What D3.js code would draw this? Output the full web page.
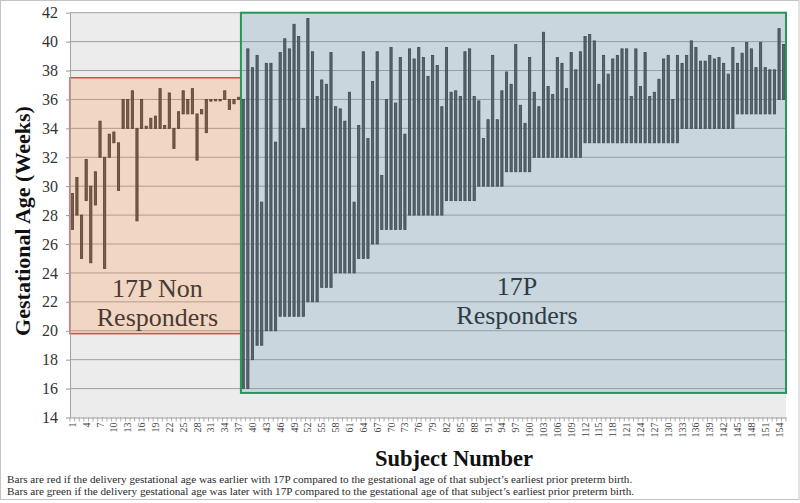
<!DOCTYPE html>
<html><head><meta charset="utf-8">
<script src="https://cdn.jsdelivr.net/npm/d3@7"></script>
<style>body{margin:0;background:#fff}svg{display:block}</style>
</head><body><svg id="c" width="800" height="503"></svg>
<script>
// Subjects 1-37: 17P non responders (bar spans low..high, weeks)
const nonResponderLow  = [27.0,28.0,25.0,29.0,24.7,28.7,32.0,24.3,32.0,33.0,29.7,34.0,34.0,34.0,27.6,34.0,34.0,34.0,34.0,34.0,34.0,34.0,32.6,34.0,35.0,35.0,35.0,31.8,35.0,33.7,35.88,35.9,35.9,36.0,35.3,35.7,36.0];
const nonResponderHigh = [29.5,30.6,28.0,31.85,30.0,31.0,34.5,32.0,33.6,33.75,33.0,36.0,36.0,36.6,34.0,36.0,34.15,34.7,34.85,36.75,34.2,36.45,34.0,35.15,36.6,36.0,36.75,35.0,35.3,36.0,36.0,36.0,36.0,36.6,36.0,36.0,36.15];
// Subjects 38-155: 17P responders (earliest prior preterm birth .. delivery with 17P)
const responderLow = [16,16,18,19,19,20,20,20,21,21,21,21,21,21,22,22,22,23,23,23,24,24,24,24,24,25,25,25,26,26,27,27,27,27,27,27,28,28,28,28,28,28,28,28,29,29,29,29,29,29,29,30,30,30,30,30,30,31,31,31,31,31,31,32,32,32,32,32,32,32,32,32,32,32,
  33,33,33,33,33,33,33,33,33,33,33,33,33,33,33,33,33,33,33,33,33,
  34,34,34,34,34,34,34,34,34,34,34,34,
  35,35,35,35,35,35,35,35,35,36,36];
const responderHigh = [36,39.5,38.2,39.05,28.9,38.5,38.5,33.05,39.25,40.2,39.5,41.2,40.35,34,41.6,39.3,36.2,37.35,37.05,39.25,35.5,35.35,34.5,36.5,28.9,34.2,39.3,33.3,37.25,39.3,30.75,36,39.6,35.75,38.9,33.6,39.5,38.8,39.6,38.9,37.6,39.05,38.35,35.5,39.6,36.5,36.6,36.2,39.3,39.5,36.2,35.9,33.3,34.6,39.05,34.6,36.6,37.9,37.05,39.8,35.6,34.35,38.9,36.5,35.5,40.65,36.9,36.35,38.9,38.5,36.75,39.25,38.05,39.3,
  40.35,40.5,40.05,37.05,39.05,37.75,38.8,39.05,39.5,39.5,36.2,39.5,36.9,39.25,36.2,36.5,37.4,38.8,39.05,36.0,39.05,
  38.5,39.05,40.05,39.6,38.65,38.65,39.05,38.8,38.9,38.5,37.75,39.6,
  38.5,39.2,39.95,39.5,38.2,39.95,38.2,38.05,38.05,40.9,39.8];
const yTicks = [14,16,18,20,22,24,26,28,30,32,34,36,38,40,42];
const labelEvery = 3;
const nonBox = {label: ["17P Non", "Responders"], top: 37.5, bottom: 19.8};
const respBox = {label: ["17P", "Responders"], top: 42, bottom: 15.7};
const footnotes = [
  "Bars are red if the delivery gestational age was earlier with 17P compared to the gestational age of that subject\u2019s earliest prior preterm birth.",
  "Bars are green if the delivery gestational age was later with 17P compared to the gestational age of that subject\u2019s earliest prior preterm birth."
];

const serif = "'Liberation Serif','Times New Roman',serif";
const svg = d3.select('#c');
const L = 70, R = 786, T = 12.7, B = 417.5;
const nNon = nonResponderLow.length;
const n = nNon + responderLow.length;
const subjects = d3.range(1, n + 1);
const bars = subjects.map((s, i) => i < nNon
  ? {s, lo: nonResponderLow[i], hi: nonResponderHigh[i]}
  : {s, lo: responderLow[i - nNon], hi: responderHigh[i - nNon]});

const x = d3.scaleBand().domain(subjects).range([L, R]).paddingInner(0.52).paddingOuter(0.26);
const y = d3.scaleLinear().domain([14, 42]).range([B, T]);
const gap = (x.step() - x.bandwidth()) / 2;

// frame
svg.append('rect').attr('x', 0.5).attr('y', 0.5).attr('width', 798.5).attr('height', 499)
  .attr('fill', 'none').attr('stroke', '#c4c4c4');
// plot bg
svg.append('rect').attr('x', L).attr('y', T).attr('width', R - L).attr('height', B - T).attr('fill', '#ececec');
// gridlines
svg.append('g').selectAll('line').data(yTicks.filter(t => t > 14)).join('line')
  .attr('x1', L).attr('x2', R).attr('y1', d => y(d)).attr('y2', d => y(d))
  .attr('stroke', '#9e9e9e').attr('stroke-width', 1);
// bars
svg.append('g').selectAll('rect').data(bars).join('rect')
  .attr('x', d => x(d.s)).attr('width', x.bandwidth())
  .attr('y', d => y(d.hi)).attr('height', d => Math.max(1, y(d.lo) - y(d.hi)))
  .attr('fill', '#4a4a4a').attr('stroke', '#262626').attr('stroke-width', 0.8);

// overlay boxes
const boundary = x(nNon + 1) - gap;
svg.append('rect').attr('x', L).attr('y', y(nonBox.top)).attr('width', boundary - L)
  .attr('height', y(nonBox.bottom) - y(nonBox.top))
  .attr('fill', 'rgb(255,150,70)').attr('fill-opacity', 0.25)
  .attr('stroke', '#e04848').attr('stroke-width', 1.5);
svg.append('rect').attr('x', boundary).attr('y', y(respBox.top)).attr('width', R - boundary)
  .attr('height', y(respBox.bottom) - y(respBox.top))
  .attr('fill', 'rgb(119,163,189)').attr('fill-opacity', 0.3)
  .attr('stroke', '#23985a').attr('stroke-width', 2);

// box labels
const nonCx = (L + boundary) / 2 + 2;
svg.append('text').attr('y', 297).attr('text-anchor', 'middle')
  .style('font-family', serif).style('font-size', '26px').attr('fill', '#4a3a34')
  .selectAll('tspan').data(nonBox.label).join('tspan')
  .attr('x', nonCx).attr('dy', (d, i) => i ? 29 : 0).text(d => d);
svg.append('text').attr('y', 295).attr('text-anchor', 'middle')
  .style('font-family', serif).style('font-size', '26px').attr('fill', '#2f3c43')
  .selectAll('tspan').data(respBox.label).join('tspan')
  .attr('x', 517).attr('dy', (d, i) => i ? 29 : 0).text(d => d);

// y axis
const ya = svg.append('g').attr('transform', `translate(${L},0)`)
  .call(d3.axisLeft(y).tickValues(yTicks).tickSize(4).tickSizeOuter(0).tickPadding(8));
ya.select('.domain').attr('stroke', '#a2a2a2');
ya.selectAll('.tick line').attr('stroke', '#999');
ya.selectAll('text').style('font-family', serif).style('font-size', '16px').attr('fill', '#333');

// x axis
const xa = svg.append('g').attr('transform', `translate(0,${B})`)
  .call(d3.axisBottom(x).tickValues(subjects.filter(s => (s - 1) % labelEvery === 0)).tickSize(0).tickSizeOuter(0));
xa.select('.domain').attr('stroke', '#999');
xa.selectAll('text').attr('transform', 'rotate(-90)').attr('x', -5).attr('y', 0).attr('dy', '0.35em')
  .style('text-anchor', 'end').style('font-family', serif).style('font-size', '10px').attr('fill', '#444');
svg.append('g').selectAll('line').data(subjects.concat([n + 1])).join('line')
  .attr('x1', d => d <= n ? x(d) - gap : R).attr('x2', d => d <= n ? x(d) - gap : R)
  .attr('y1', B).attr('y2', B + 4).attr('stroke', '#999').attr('stroke-width', 0.8);

// titles
svg.append('text').attr('transform', 'translate(30,221) rotate(-90)').attr('text-anchor', 'middle')
  .style('font-family', serif).style('font-size', '22px').style('font-weight', 'bold').attr('fill', '#111')
  .text('Gestational Age (Weeks)');
svg.append('text').attr('x', 454).attr('y', 466).attr('text-anchor', 'middle')
  .style('font-family', serif).style('font-size', '22.5px').style('font-weight', 'bold').attr('fill', '#111')
  .text('Subject Number');
svg.append('g').selectAll('text').data(footnotes).join('text')
  .attr('x', 7).attr('y', (d, i) => 483 + i * 11.5)
  .style('font-family', serif).style('font-size', '11.2px').attr('fill', '#2a2a2a').text(d => d);
</script></body></html>
